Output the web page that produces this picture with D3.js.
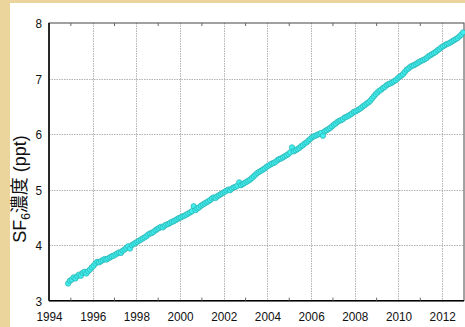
<!DOCTYPE html>
<html>
<head>
<meta charset="utf-8">
<script src="https://cdn.jsdelivr.net/npm/d3@7"></script>
<style>
  html, body { margin: 0; padding: 0; background: #ECD59C; }
  svg { display: block; }
  text { font-family: "Liberation Sans", Arial, sans-serif; fill: #111; }
</style>
</head>
<body>
<svg id="chart" width="465" height="327"></svg>
<script>
// Monthly SF6 mole fraction (ppt), starting November 1994
const firstYear = 1994;
const firstMonth = 10; // 0-based month index (November)
const sf6Values = [
  3.31, 3.36,
  3.38, 3.42, 3.40, 3.44, 3.47, 3.45, 3.50, 3.52, 3.49, 3.53, 3.56, 3.60,
  3.63, 3.67, 3.70, 3.69, 3.71, 3.73, 3.75, 3.74, 3.76, 3.78, 3.80, 3.81,
  3.83, 3.85, 3.87, 3.86, 3.90, 3.92, 3.95, 3.98, 3.94, 4.00, 4.02, 4.04,
  4.06, 4.08, 4.10, 4.12, 4.14, 4.16, 4.19, 4.21, 4.22, 4.24, 4.27, 4.29,
  4.31, 4.33, 4.32, 4.35, 4.37, 4.38, 4.40, 4.42, 4.43, 4.45, 4.47, 4.49,
  4.50, 4.52, 4.53, 4.55, 4.57, 4.59, 4.61, 4.70, 4.63, 4.66, 4.68, 4.71,
  4.73, 4.75, 4.77, 4.79, 4.81, 4.84, 4.86, 4.85, 4.88, 4.90, 4.92, 4.94,
  4.96, 4.98, 5.00, 4.99, 5.02, 5.04, 5.05, 5.07, 5.13, 5.08, 5.10, 5.12,
  5.14, 5.16, 5.18, 5.21, 5.24, 5.27, 5.30, 5.32, 5.34, 5.36, 5.38, 5.41,
  5.43, 5.45, 5.47, 5.48, 5.50, 5.53, 5.55, 5.56, 5.58, 5.60, 5.62, 5.64,
  5.67, 5.76, 5.69, 5.71, 5.73, 5.75, 5.78, 5.80, 5.83, 5.85, 5.88, 5.91,
  5.94, 5.96, 5.97, 5.99, 6.00, 6.02, 5.97, 6.05, 6.07, 6.09, 6.11, 6.14,
  6.17, 6.19, 6.22, 6.24, 6.25, 6.27, 6.30, 6.31, 6.33, 6.35, 6.37, 6.40,
  6.41, 6.43, 6.45, 6.47, 6.50, 6.52, 6.55, 6.57, 6.60, 6.64, 6.68, 6.72,
  6.75, 6.78, 6.80, 6.83, 6.85, 6.88, 6.90, 6.91, 6.93, 6.95, 6.97, 7.00,
  7.03, 7.05, 7.08, 7.12, 7.16, 7.18, 7.21, 7.23, 7.24, 7.26, 7.28, 7.30,
  7.32, 7.33, 7.35, 7.37, 7.40, 7.42, 7.44, 7.46, 7.48, 7.51, 7.53, 7.56,
  7.58, 7.60, 7.62, 7.63, 7.65, 7.67, 7.69, 7.71, 7.73, 7.76, 7.79, 7.83
];

const xMajorTicks = [1994, 1996, 1998, 2000, 2002, 2004, 2006, 2008, 2010, 2012];
const xMinorTicks = [1995, 1997, 1999, 2001, 2003, 2005, 2007, 2009, 2011];
const yTicks = [3, 4, 5, 6, 7, 8];
const xDomain = [1994, 2013];
const yDomain = [3, 8];

// mid-month decimal year for each observation
const points = sf6Values.map((v, i) => {
  const m = firstMonth + i;
  return { t: firstYear + Math.floor(m / 12) + ((m % 12) + 0.5) / 12, v };
});

const svg = d3.select("#chart");
const W = 465, H = 327;
const plot = { left: 49, right: 464, top: 23, bottom: 300.7 };

// white panel inside the beige frame
svg.append("rect").attr("x", 10).attr("y", 3).attr("width", W - 10).attr("height", H - 3)
  .attr("fill", "#ffffff");

const x = d3.scaleLinear().domain(xDomain).range([plot.left, plot.right]);
const y = d3.scaleLinear().domain(yDomain).range([plot.bottom, plot.top]);

// grid
const grid = svg.append("g").attr("stroke", "#b2b2b2").attr("stroke-width", 1)
  .attr("stroke-dasharray", "1.5,1");
grid.selectAll("line.gx").data(xMajorTicks.slice(1)).join("line")
  .attr("x1", d => Math.round(x(d)) + 0.5).attr("x2", d => Math.round(x(d)) + 0.5)
  .attr("y1", plot.top).attr("y2", plot.bottom);
grid.selectAll("line.gy").data(yTicks.slice(1, -1)).join("line")
  .attr("y1", d => Math.round(y(d)) + 0.5).attr("y2", d => Math.round(y(d)) + 0.5)
  .attr("x1", plot.left).attr("x2", plot.right);

// frame
svg.append("rect")
  .attr("x", plot.left).attr("y", plot.top)
  .attr("width", plot.right - plot.left).attr("height", plot.bottom - plot.top)
  .attr("fill", "none").attr("stroke", "#444").attr("stroke-width", 1);
svg.append("line").attr("x1", plot.left).attr("x2", plot.left)
  .attr("y1", plot.top).attr("y2", plot.bottom).attr("stroke", "#000").attr("stroke-width", 1.5);
svg.append("line").attr("x1", plot.left).attr("x2", plot.right)
  .attr("y1", plot.bottom).attr("y2", plot.bottom).attr("stroke", "#000").attr("stroke-width", 1.5);

// minor ticks on top and bottom edges, pointing inward
const minor = svg.append("g").attr("stroke", "#666").attr("stroke-width", 1);
minor.selectAll("line.b").data(xMinorTicks).join("line")
  .attr("x1", d => x(d)).attr("x2", d => x(d))
  .attr("y1", plot.bottom).attr("y2", plot.bottom - 3);
minor.selectAll("line.t").data(xMinorTicks).join("line")
  .attr("x1", d => x(d)).attr("x2", d => x(d))
  .attr("y1", plot.top).attr("y2", plot.top + 3);

// axis labels
const xAxis = d3.axisBottom(x).tickValues(xMajorTicks).tickFormat(d3.format("d")).tickSize(0).tickPadding(0);
const gx = svg.append("g").attr("transform", `translate(0,${plot.bottom})`).call(xAxis);
gx.select(".domain").remove();
gx.selectAll("text")
  .attr("y", 0).attr("dy", null)
  .attr("font-size", 13.5).attr("font-family", "Liberation Sans, Arial, sans-serif")
  .attr("fill", "#111")
  .attr("transform", "translate(0,20.5) scale(0.87,1)");

const yAxis = d3.axisLeft(y).tickValues(yTicks).tickFormat(d3.format("d")).tickSize(0).tickPadding(0);
const gy = svg.append("g").attr("transform", `translate(${plot.left},0)`).call(yAxis);
gy.select(".domain").remove();
gy.selectAll("text")
  .attr("x", 0).attr("dy", null).attr("y", 0)
  .attr("font-size", 13.5).attr("font-family", "Liberation Sans, Arial, sans-serif")
  .attr("fill", "#111")
  .attr("transform", "translate(-7,4.8) scale(0.87,1)");

// y title
const title = svg.append("text")
  .attr("transform", "translate(26,189) rotate(-90)")
  .attr("text-anchor", "middle")
  .attr("font-size", 18);
title.append("tspan").text("SF");
title.append("tspan").attr("font-size", 12).attr("dy", 4).text("6");
title.append("tspan").attr("dy", -4).attr("font-family", "'Noto Sans CJK JP', sans-serif").text("濃度");
title.append("tspan").text(" (ppt)");

// observations
svg.append("g").selectAll("circle").data(points).join("circle")
  .attr("cx", d => x(d.t)).attr("cy", d => y(d.v)).attr("r", 2.7)
  .attr("fill", "#40EEEE").attr("stroke", "#2AAFAF").attr("stroke-width", 0.7);
</script>
</body>
</html>
